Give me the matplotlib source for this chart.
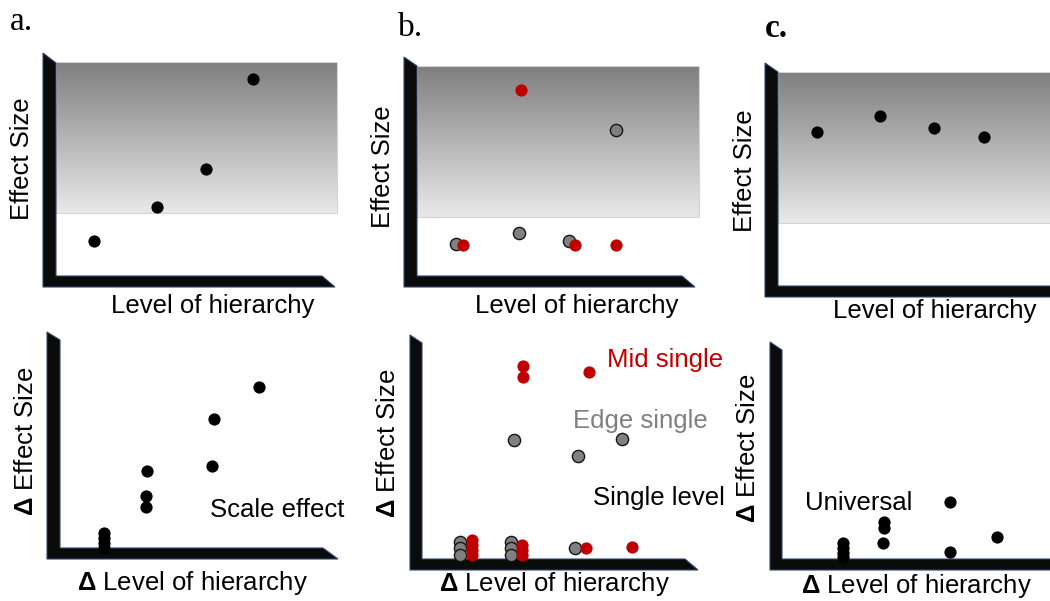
import numpy as np
import matplotlib
matplotlib.use("Agg")
import matplotlib.pyplot as plt
from matplotlib.patches import Polygon, Rectangle
from matplotlib.colors import LinearSegmentedColormap

W, H = 1050, 601

plt.rcParams.update({
    "font.family": "Liberation Sans",
    "mathtext.fontset": "custom",
    "mathtext.rm": "Liberation Sans",
    "mathtext.bf": "Liberation Sans:bold",
})

# -------------------------------------------------
# Data (schematic values, 0-10 scale inside each panel)
# -------------------------------------------------
# a. top: scale effect
a_top_x = [1.35, 3.59, 5.34, 7.01]
a_top_y = [1.64, 3.24, 5.02, 9.25]

# b. top: single level (edge = grey, mid = red)
b_top_edge_x = [1.38, 3.62, 5.39, 7.06]
b_top_edge_y = [1.52, 2.05, 1.67, 6.95]
b_top_mid_x = [1.63, 3.69, 5.60, 7.06]
b_top_mid_y = [1.48, 8.86, 1.48, 1.48]

# c. top: universal
c_top_x = [1.43, 3.75, 5.74, 7.57]
c_top_y = [7.20, 7.94, 7.38, 6.96]

# a. bottom: delta plot
a_bot_x = [7.16, 5.54, 5.47, 3.13, 3.09, 3.09, 1.58, 1.58, 1.58, 1.58]
a_bot_y = [7.74, 6.20, 3.94, 3.70, 2.50, 1.97, 0.72, 0.48, 0.24, 0.02]

# b. bottom: delta plot
b_bot_edge_x = [3.33, 7.25, 5.65, 1.38, 1.38, 1.38, 3.22, 3.22, 3.22, 5.54]
b_bot_edge_y = [5.51, 5.56, 4.77, 0.79, 0.51, 0.19, 0.79, 0.51, 0.19, 0.51]
b_bot_mid_x = [3.66, 3.66, 6.05, 1.81, 1.81, 1.81, 1.81, 3.62, 3.62, 3.62, 5.94, 7.61]
b_bot_mid_y = [8.94, 8.43, 8.66, 0.88, 0.65, 0.42, 0.19, 0.65, 0.42, 0.19, 0.51, 0.56]

# c. bottom: delta plot
c_bot_x = [6.27, 3.81, 3.81, 3.77, 8.02, 6.27, 2.28, 2.28, 2.28, 2.28]
c_bot_y = [2.73, 1.77, 1.48, 0.77, 1.05, 0.33, 0.77, 0.53, 0.29, 0.10]

RED = "#c00000"
GREY = "#808080"


def px(x, y):
    """pixel (from top-left) -> figure fraction"""
    return x / W, 1 - y / H


# panel frame geometry in pixels: inner corner, size, bar outline, gradient box
panels = {
    "a_top": dict(x0=56, y0=276, w=281, h=213,
                  bar=[(43, 53), (56, 63), (56, 276), (322, 276), (335, 287), (43, 287)],
                  grad=(56, 337, 62, 213)),
    "b_top": dict(x0=417, y0=276, w=282, h=210,
                  bar=[(404, 57), (417, 66), (417, 276), (682, 276), (695, 287), (404, 287)],
                  grad=(417, 699, 66, 217)),
    "c_top": dict(x0=778, y0=286, w=272, h=214,
                  bar=[(765, 63), (778, 72), (778, 286), (1060, 286), (1060, 297), (765, 297)],
                  grad=(778, 1055, 72, 223)),
    "a_bot": dict(x0=60, y0=548, w=278, h=208,
                  bar=[(47, 332), (60, 340), (60, 548), (323, 548), (338, 559), (47, 559)],
                  grad=None),
    "b_bot": dict(x0=422, y0=559, w=276, h=216,
                  bar=[(410, 335), (422, 343), (422, 559), (685, 559), (698, 570), (410, 570)],
                  grad=None),
    "c_bot": dict(x0=782, y0=559, w=268, h=209,
                  bar=[(770, 342), (782, 350), (782, 559), (1060, 559), (1060, 570), (770, 570)],
                  grad=None),
}

fig = plt.figure(figsize=(W / 100, H / 100), dpi=100)
bg = fig.add_axes([0, 0, 1, 1])
bg.axis("off")

cmap = LinearSegmentedColormap.from_list("shade", ["#7f7f7f", "#e9e9e9"])
grad = np.linspace(0, 1, 256).reshape(-1, 1)

axes = {}
for key, p in panels.items():
    if p["grad"] is not None:
        gx0, gx1, gy0, gy1 = p["grad"]
        bg.imshow(grad, cmap=cmap, extent=(gx0, gx1, gy1, gy0), aspect="auto",
                  origin="upper", zorder=1)
        bg.add_patch(Rectangle((gx0, gy0), gx1 - gx0, gy1 - gy0, fill=False,
                               edgecolor="#d4d4d4", linewidth=0.8, zorder=2))
    bg.add_patch(Polygon(p["bar"], closed=True, facecolor="#0b0b0b",
                         edgecolor="#2f4470", linewidth=0.8, zorder=3))
    fx, fy = p["x0"] / W, (H - p["y0"]) / H
    ax = fig.add_axes([fx, fy, p["w"] / W, p["h"] / H])
    ax.set_xlim(0, 10)
    ax.set_ylim(0, 10)
    ax.axis("off")
    ax.patch.set_alpha(0)
    axes[key] = ax

bg.set_xlim(0, W)
bg.set_ylim(H, 0)

dot = dict(marker="o", linestyle="none", markersize=8.8, clip_on=False)


def black(ax, x, y):
    ax.plot(x, y, color="black", markeredgewidth=0, **dot)


def edge(ax, x, y):
    ax.plot(x, y, markerfacecolor=GREY, markeredgecolor="#151515",
            markeredgewidth=1.0, **dot)


def mid(ax, x, y):
    ax.plot(x, y, color=RED, markeredgewidth=0, **dot)


black(axes["a_top"], a_top_x, a_top_y)
edge(axes["b_top"], b_top_edge_x, b_top_edge_y)
mid(axes["b_top"], b_top_mid_x, b_top_mid_y)
black(axes["c_top"], c_top_x, c_top_y)
black(axes["a_bot"], a_bot_x, a_bot_y)
edge(axes["b_bot"], b_bot_edge_x, b_bot_edge_y)
mid(axes["b_bot"], b_bot_mid_x, b_bot_mid_y)
black(axes["c_bot"], c_bot_x, c_bot_y)

# panel letters
fig.text(*px(10, 30), "a.", family="Liberation Serif", fontsize=24, va="baseline")
fig.text(*px(398, 36), "b.", family="Liberation Serif", fontsize=24, va="baseline")
fig.text(*px(765, 37), "c.", family="Liberation Serif", fontsize=24,
         fontweight="bold", va="baseline")

FS = 18.5
# axis labels, top row
for cx, by in [(213, 313), (577, 313), (935, 318)]:
    fig.text(*px(cx, by), "Level of hierarchy", fontsize=FS, ha="center", va="baseline")
for cx, cy in [(22, 159), (383, 167), (745, 171)]:
    fig.text(*px(cx, cy), "Effect Size", fontsize=FS, rotation=90,
             ha="center", va="center")

# axis labels, bottom row
for cx, by in [(192, 590), (554, 591), (916, 593)]:
    fig.text(*px(cx, by), r"$\mathbf{\Delta}$ Level of hierarchy", fontsize=FS,
             ha="center", va="baseline")
for cx, cy in [(26, 441), (388, 443), (748, 448)]:
    fig.text(*px(cx, cy), r"$\mathbf{\Delta}$ Effect Size", fontsize=FS, rotation=90,
             ha="center", va="center")

# annotations
fig.text(*px(277, 517), "Scale effect", fontsize=FS, ha="center", va="baseline")
fig.text(*px(665, 367), "Mid single", fontsize=FS, ha="center", va="baseline", color=RED)
fig.text(*px(640, 428), "Edge single", fontsize=FS, ha="center", va="baseline", color=GREY)
fig.text(*px(659, 505), "Single level", fontsize=FS, ha="center", va="baseline")
fig.text(*px(859, 510), "Universal", fontsize=FS, ha="center", va="baseline")

fig.savefig("out.png", dpi=100)
